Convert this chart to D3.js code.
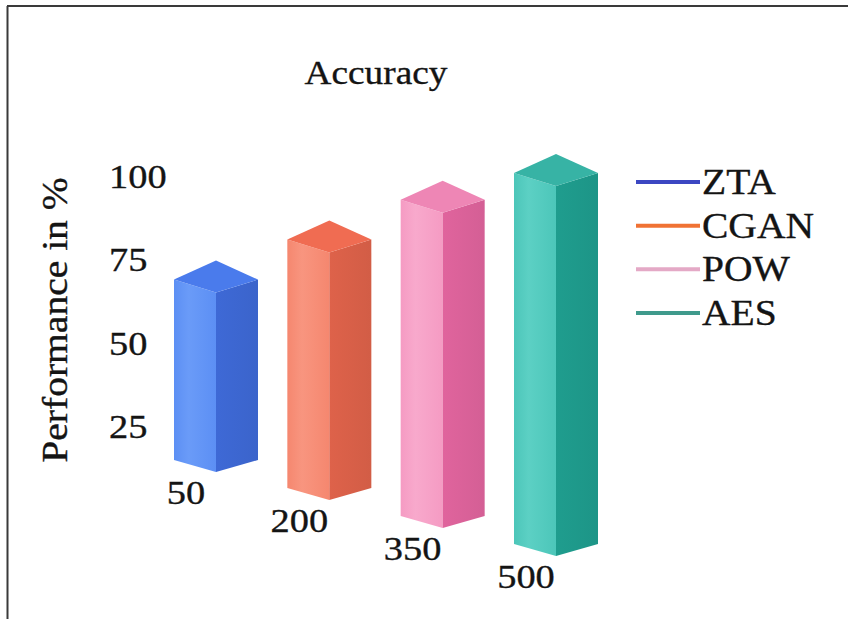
<!DOCTYPE html>
<html>
<head>
<meta charset="utf-8">
<script src="https://cdn.jsdelivr.net/npm/d3@7/dist/d3.min.js"></script>
<style>
  html, body { margin: 0; padding: 0; background: #fff; }
  svg { display: block; }
  text { font-family: "Liberation Serif", "Times New Roman", serif; fill: #141414; stroke: #141414; stroke-width: 0.35px; }
</style>
</head>
<body>
<svg id="chart" width="848" height="619"></svg>
<script>
// Data
const categories = ["50", "200", "350", "500"];
const seriesNames = ["ZTA", "CGAN", "POW", "AES"];
const accuracy = [65, 77, 89, 97];
const yTicks = [25, 50, 75, 100];

// Palette: front (lit) face, side (shaded) face, top face, legend stroke
const frontColors = ["#5c8ff4", "#f5876f", "#f59bc3", "#4cc6b9"];
const frontLight  = ["#6a9bf8", "#f8957f", "#f8a9cc", "#5cd0c4"];
const sideColors  = ["#3e69d6", "#de624a", "#e0649d", "#1f9d8e"];
const topColors   = ["#4a7bec", "#f06c52", "#ee86b5", "#37b3a5"];
const legendColors = ["#3c47c2", "#f07234", "#e4a9c6", "#3f9a8c"];

const W = 848, H = 619;
const svg = d3.select("#chart");
const stretch = 1.13;   // horizontal text stretch used throughout

// Frame (top and left rules)
svg.append("line").attr("x1", 7).attr("x2", W).attr("y1", 6).attr("y2", 6)
  .attr("stroke", "#3a3a3a").attr("stroke-width", 2);
svg.append("line").attr("x1", 7.5).attr("x2", 7.5).attr("y1", 6).attr("y2", H)
  .attr("stroke", "#3a3a3a").attr("stroke-width", 2);

// Scales
const x = d3.scalePoint().domain(categories).range([216, 556]);   // front edge of each column
const floorY = d3.scalePoint().domain(categories).range([460, 544]); // sloping floor (side corners)
const y = d3.scaleLinear().domain([0, 100]).range([509, 176]);

// Column geometry
const halfW = 42, topRise = 13, peakRise = 19, bottomDrop = 12;

// Gradients for lit faces
const defs = svg.append("defs");
categories.forEach((c, i) => {
  const g = defs.append("linearGradient").attr("id", "front" + i)
    .attr("x1", "0%").attr("x2", "100%").attr("y1", "0%").attr("y2", "0%");
  g.append("stop").attr("offset", "0%").attr("stop-color", frontColors[i]);
  g.append("stop").attr("offset", "35%").attr("stop-color", frontLight[i]);
  g.append("stop").attr("offset", "100%").attr("stop-color", frontColors[i]);
  const s = defs.append("linearGradient").attr("id", "side" + i)
    .attr("x1", "0%").attr("x2", "100%").attr("y1", "0%").attr("y2", "0%");
  s.append("stop").attr("offset", "0%").attr("stop-color", sideColors[i]);
  s.append("stop").attr("offset", "100%").attr("stop-color", d3.color(sideColors[i]).darker(0.15));
});

const line = d3.line();
const bars = svg.append("g").selectAll("g")
  .data(categories.map((c, i) => ({ c, i, v: accuracy[i] })))
  .join("g");

bars.each(function(d) {
  const g = d3.select(this);
  const cx = x(d.c);
  const yt = y(d.v);            // front-top corner
  const yb = floorY(d.c);       // side corners at the floor
  const L = cx - halfW, R = cx + halfW;
  // lit face
  g.append("path")
    .attr("d", line([[L, yt - topRise], [cx, yt], [cx, yb + bottomDrop], [L, yb]]) + "Z")
    .attr("fill", `url(#front${d.i})`);
  // shaded face
  g.append("path")
    .attr("d", line([[cx, yt], [R, yt - topRise], [R, yb], [cx, yb + bottomDrop]]) + "Z")
    .attr("fill", `url(#side${d.i})`);
  // top face
  g.append("path")
    .attr("d", line([[L, yt - topRise], [cx, yt - topRise - peakRise], [R, yt - topRise], [cx, yt]]) + "Z")
    .attr("fill", topColors[d.i]);
});

// Category labels beneath each column
svg.append("g").selectAll("text")
  .data(categories)
  .join("text")
  .attr("transform", c => `translate(${x(c) - 30},${floorY(c) + 32}) scale(${stretch},1)`)
  .attr("text-anchor", "middle")
  .attr("dy", "0.34em")
  .attr("font-size", 34)
  .text(c => c);

// Value axis (labels only)
const axisG = svg.append("g").attr("transform", "translate(109,0)")
  .call(d3.axisLeft(y).tickValues(yTicks).tickSize(0).tickFormat(d3.format("d")));
axisG.select(".domain").remove();
axisG.selectAll(".tick line").remove();
axisG.selectAll(".tick text")
  .attr("x", 0).attr("dy", "0.34em")
  .attr("text-anchor", "start")
  .attr("transform", `scale(${stretch},1)`)
  .attr("font-family", "Liberation Serif, Times New Roman, serif")
  .attr("font-size", 34)
  .attr("fill", "#141414");

// Axis title
svg.append("text")
  .attr("transform", `translate(67,320) rotate(-90) scale(${stretch},1)`)
  .attr("text-anchor", "middle")
  .attr("font-size", 35)
  .text("Performance in %");

// Chart title
svg.append("text")
  .attr("transform", `translate(376,84) scale(${stretch},1)`)
  .attr("text-anchor", "middle")
  .attr("font-size", 33)
  .text("Accuracy");

// Legend
const legendY = d3.scalePoint().domain(seriesNames).range([182, 313]);
const leg = svg.append("g").selectAll("g").data(seriesNames).join("g")
  .attr("transform", s => `translate(0,${legendY(s)})`);
leg.append("line")
  .attr("x1", 636).attr("x2", 700).attr("y1", 0).attr("y2", 0)
  .attr("stroke", (s, i) => legendColors[i]).attr("stroke-width", 4);
leg.append("text")
  .attr("transform", `translate(702,0) scale(${stretch},1)`)
  .attr("dy", "0.34em")
  .attr("font-size", 35)
  .text(s => s);
</script>
</body>
</html>
